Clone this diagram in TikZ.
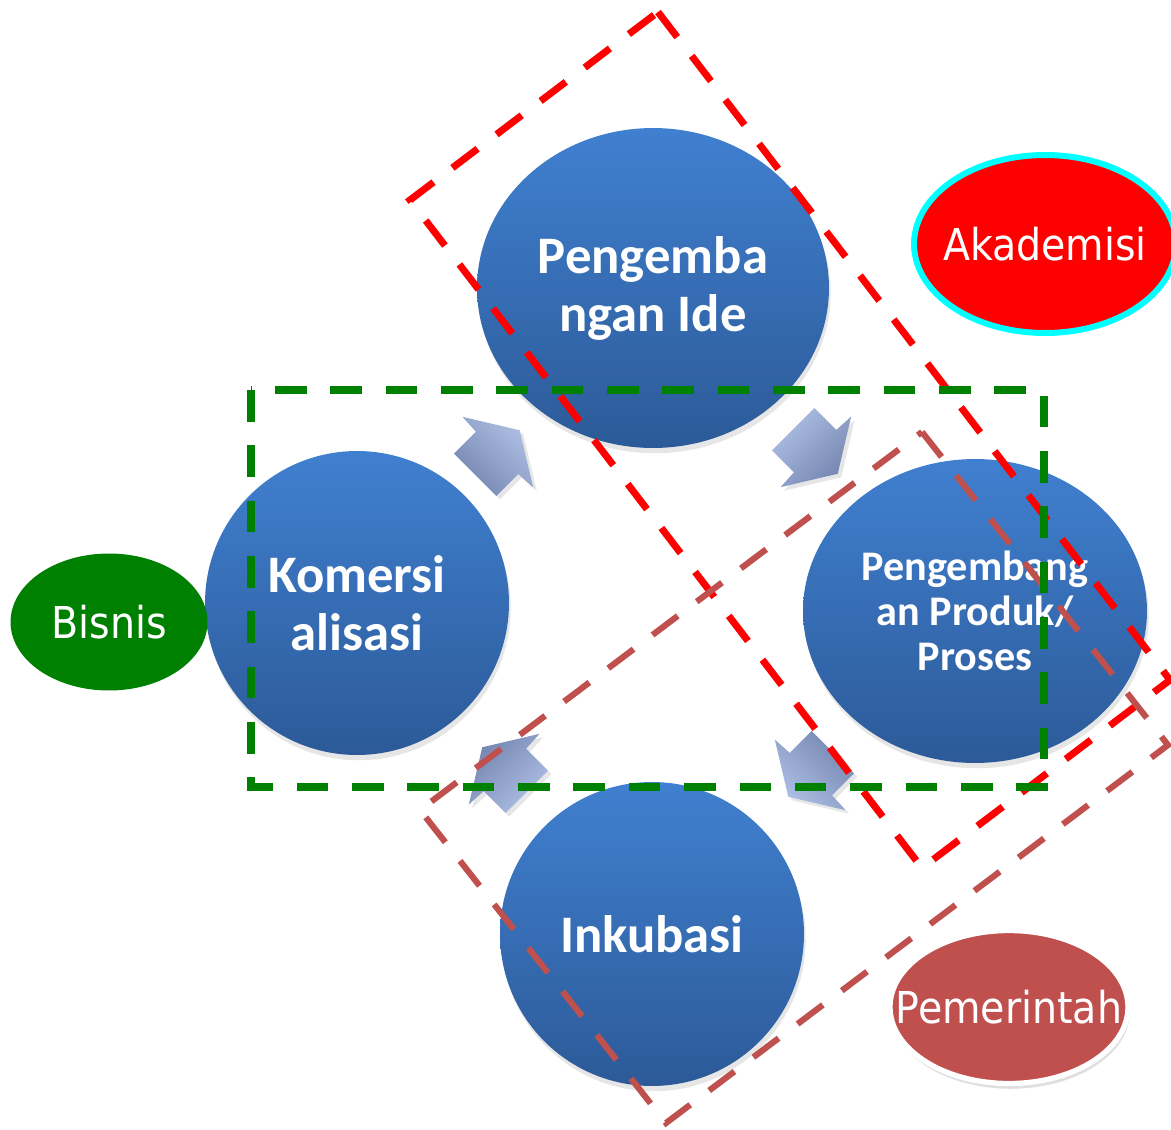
\documentclass[tikz,border=0pt]{standalone}
\usepackage{fontspec}
\setmainfont{Carlito}
\newfontfamily\rolefont{DejaVu Sans Condensed}
\usetikzlibrary{shapes.geometric}
\usetikzlibrary{shadows}
\usetikzlibrary{positioning}

\definecolor{circtop}{RGB}{64,128,208}
\definecolor{circbot}{RGB}{44,90,152}
\definecolor{arrtop}{RGB}{174,192,228}
\definecolor{arrbot}{RGB}{116,134,176}
\definecolor{govred}{RGB}{192,80,77}
\definecolor{bizgreen}{RGB}{0,128,0}
\definecolor{akaborder}{RGB}{0,255,255}

\begin{document}
\begin{tikzpicture}[x=0.02cm,y=-0.02cm,
    main node/.style={ellipse,top color=circtop,bottom color=circbot,text=white,align=center,inner sep=0pt,
      font=\bfseries\fontsize{30}{33}\selectfont,drop shadow={opacity=0.2,shadow xshift=1pt,shadow yshift=-3pt}},
    role node/.style={ellipse,text=white,inner sep=0pt,font=\rolefont\fontsize{25}{30}\selectfont},
    zone line/.style={line width=4pt,dash pattern=on 18pt off 13.5pt},
    cyclearrow/.pic={
      \path[rotate=#1,top color=arrtop,bottom color=arrbot,shading angle=-#1,
          drop shadow={opacity=0.2,shadow xshift=2pt,shadow yshift=-2pt}]
        (-28,-30) -- (3,-30) -- (4,-50) -- (35,0) -- (4,50) -- (3,30) -- (-28,30) -- cycle;
    }]
  \useasboundingbox (0,0) rectangle (1171,1130);

  % cycle
  \node[main node,minimum width=7.04cm,minimum height=6.4cm] (ide) at (653,288) {Pengemba\\ngan Ide};
  \node[main node,minimum width=6.08cm,minimum height=6.08cm] (komersi) at (357,603) {Komersi\\alisasi};
  \node[main node,minimum width=6.88cm,minimum height=6.08cm,font=\bfseries\fontsize{24}{25.5}\selectfont] (produk) at (975,611) {Pengembang\\an Produk/\\Proses};
  \node[main node,minimum width=6.08cm,minimum height=6.08cm] (inkubasi) at (652,934) {Inkubasi};

  \pic (arrA) at (495,455) {cyclearrow=45};
  \pic (arrB) at (813,449) {cyclearrow=-45};
  \pic (arrC) at (813,772) {cyclearrow=-135};
  \pic (arrD) at (507,772) {cyclearrow=135};

  % zones
  \draw[zone line,red] (658,12) -- (1170,680) -- (922,868) -- (410,200) -- cycle;
  \draw[zone line,govred,line width=3.5pt] (922,432) -- (1168,745) -- (666,1123) -- (420,810) -- cycle;
  \draw[zone line,bizgreen] (251,390) rectangle (1044,787);

  % actors
  \node[role node,fill=red,draw=akaborder,line width=3.4pt,minimum width=5.24cm,minimum height=3.56cm] (akademisi) at (1045,244) {\makebox[0pt]{Akademisi}};
  \node[role node,fill=govred,draw=white,line width=3pt,minimum width=4.76cm,minimum height=3.06cm,
    drop shadow={opacity=0.25,shadow xshift=1pt,shadow yshift=-3pt}] (pemerintah) at (1009,1007) {\makebox[0pt]{Pemerintah}};
  \node[role node,fill=bizgreen,minimum width=3.94cm,minimum height=2.74cm] (bisnis) at (109,622) {\makebox[0pt]{Bisnis}};
\end{tikzpicture}
\end{document}
